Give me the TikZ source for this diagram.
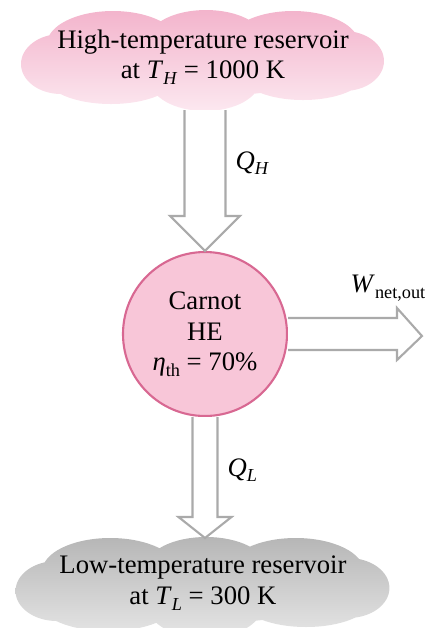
\documentclass[tikz,border=0pt]{standalone}
\usepackage{fontspec}
\setmainfont{Liberation Serif}
\usetikzlibrary{positioning, calc}
\definecolor{hotpink}{RGB}{243,180,204}
\definecolor{hotpale}{RGB}{252,232,240}
\definecolor{coldgray}{RGB}{182,182,182}
\definecolor{coldpale}{RGB}{230,230,230}
\definecolor{hefill}{RGB}{248,198,216}
\definecolor{heedge}{RGB}{216,104,146}
\definecolor{arrowgray}{RGB}{170,170,170}
% puffs of a reservoir cloud, around (0,0)
\newcommand\cloudpuffs{
  (0,0) ellipse (1.48 and 0.38)
  (-0.90,0.14) ellipse (0.66 and 0.33)
  (0.03,0.18) ellipse (0.58 and 0.30)
  (0.90,0.14) ellipse (0.66 and 0.33)
  (-0.92,-0.18) ellipse (0.66 and 0.28)
  (0.02,-0.22) ellipse (0.55 and 0.31)
  (1.00,-0.16) ellipse (0.62 and 0.26)
  (-1.42,-0.06) ellipse (0.40 and 0.30)
  (1.41,-0.03) ellipse (0.40 and 0.30)}
\newcommand\lowsub[1]{\raisebox{-0.45ex}{\fontsize{5.2}{6}\selectfont #1}}

\begin{document}
\begin{tikzpicture}[
  restext/.style={align=center, inner sep=0pt, font=\fontsize{7.6}{8.8}\selectfont},
  engine/.style={circle, draw=heedge, line width=0.6pt, fill=hefill, minimum size=1.64cm, inner sep=0pt, align=center, font=\fontsize{7.6}{8.8}\selectfont},
  fatarrow/.style={draw=arrowgray, fill=white, line width=0.6pt, line join=miter},
  flowlbl/.style={font=\fontsize{7.6}{8.8}\selectfont, inner sep=0pt},
]
  \useasboundingbox (0,0) rectangle (4.30,-6.28);

  % reservoirs
  \path[top color=hotpink, bottom color=hotpale, shift={(2.03,-0.58)}] \cloudpuffs;
  \path[top color=coldgray, bottom color=coldpale, shift={(2.03,-5.85)}, xscale=1.03] \cloudpuffs;
  \node[restext] (hot) at (2.03,-0.57)
    {High-temperature reservoir\\at \textit{T}\lowsub{\textit{H}} = 1000 K};
  \node[restext] (cold) at (2.03,-5.83)
    {Low-temperature reservoir\\at \textit{T}\lowsub{\textit{L}} = 300 K};
  \node[engine] (he) at (2.05,-3.34) {Carnot\\HE\\\textit{η}\lowsub{th} = 70\%};

  % heat in
  \coordinate (hotrim) at (2.05,-1.10);
  \draw[fatarrow] ([xshift=-2.05mm]hotrim) -- ([xshift=-2.05mm,yshift=3.5mm]he.north)
    -- ([xshift=-3.5mm,yshift=3.5mm]he.north) -- (he.north) -- ([xshift=3.5mm,yshift=3.5mm]he.north)
    -- ([xshift=2.05mm,yshift=3.5mm]he.north) -- ([xshift=2.05mm]hotrim);
  % work out
  \coordinate (wtip) at (4.22,-3.36);
  \draw[fatarrow] ([yshift=1.6mm]he.east) -- ([xshift=-2.5mm,yshift=1.6mm]wtip |- he.east)
    -- ([xshift=-2.5mm,yshift=2.6mm]wtip |- he.east) -- (wtip) -- ([xshift=-2.5mm,yshift=-2.6mm]wtip |- he.east)
    -- ([xshift=-2.5mm,yshift=-1.6mm]wtip |- he.east) -- ([yshift=-1.6mm]he.east);
  % heat rejected
  \coordinate (qltip) at (2.05,-5.38);
  \draw[fatarrow] ([xshift=-1.25mm]he.south) -- ([xshift=-1.25mm,yshift=2.1mm]qltip)
    -- ([xshift=-2.65mm,yshift=2.1mm]qltip) -- (qltip) -- ([xshift=2.65mm,yshift=2.1mm]qltip)
    -- ([xshift=1.25mm,yshift=2.1mm]qltip) -- ([xshift=1.25mm]he.south);

  \node[flowlbl, anchor=west] (qh) at (2.35,-1.63) {\textit{Q}\lowsub{\textit{H}}};
  \node[flowlbl, anchor=west] (ql) at (2.27,-4.70) {\textit{Q}\lowsub{\textit{L}}};
  \node[flowlbl] (wnet) at (3.88,-2.88) {\textit{W}\lowsub{net,out}};
\end{tikzpicture}
\end{document}
